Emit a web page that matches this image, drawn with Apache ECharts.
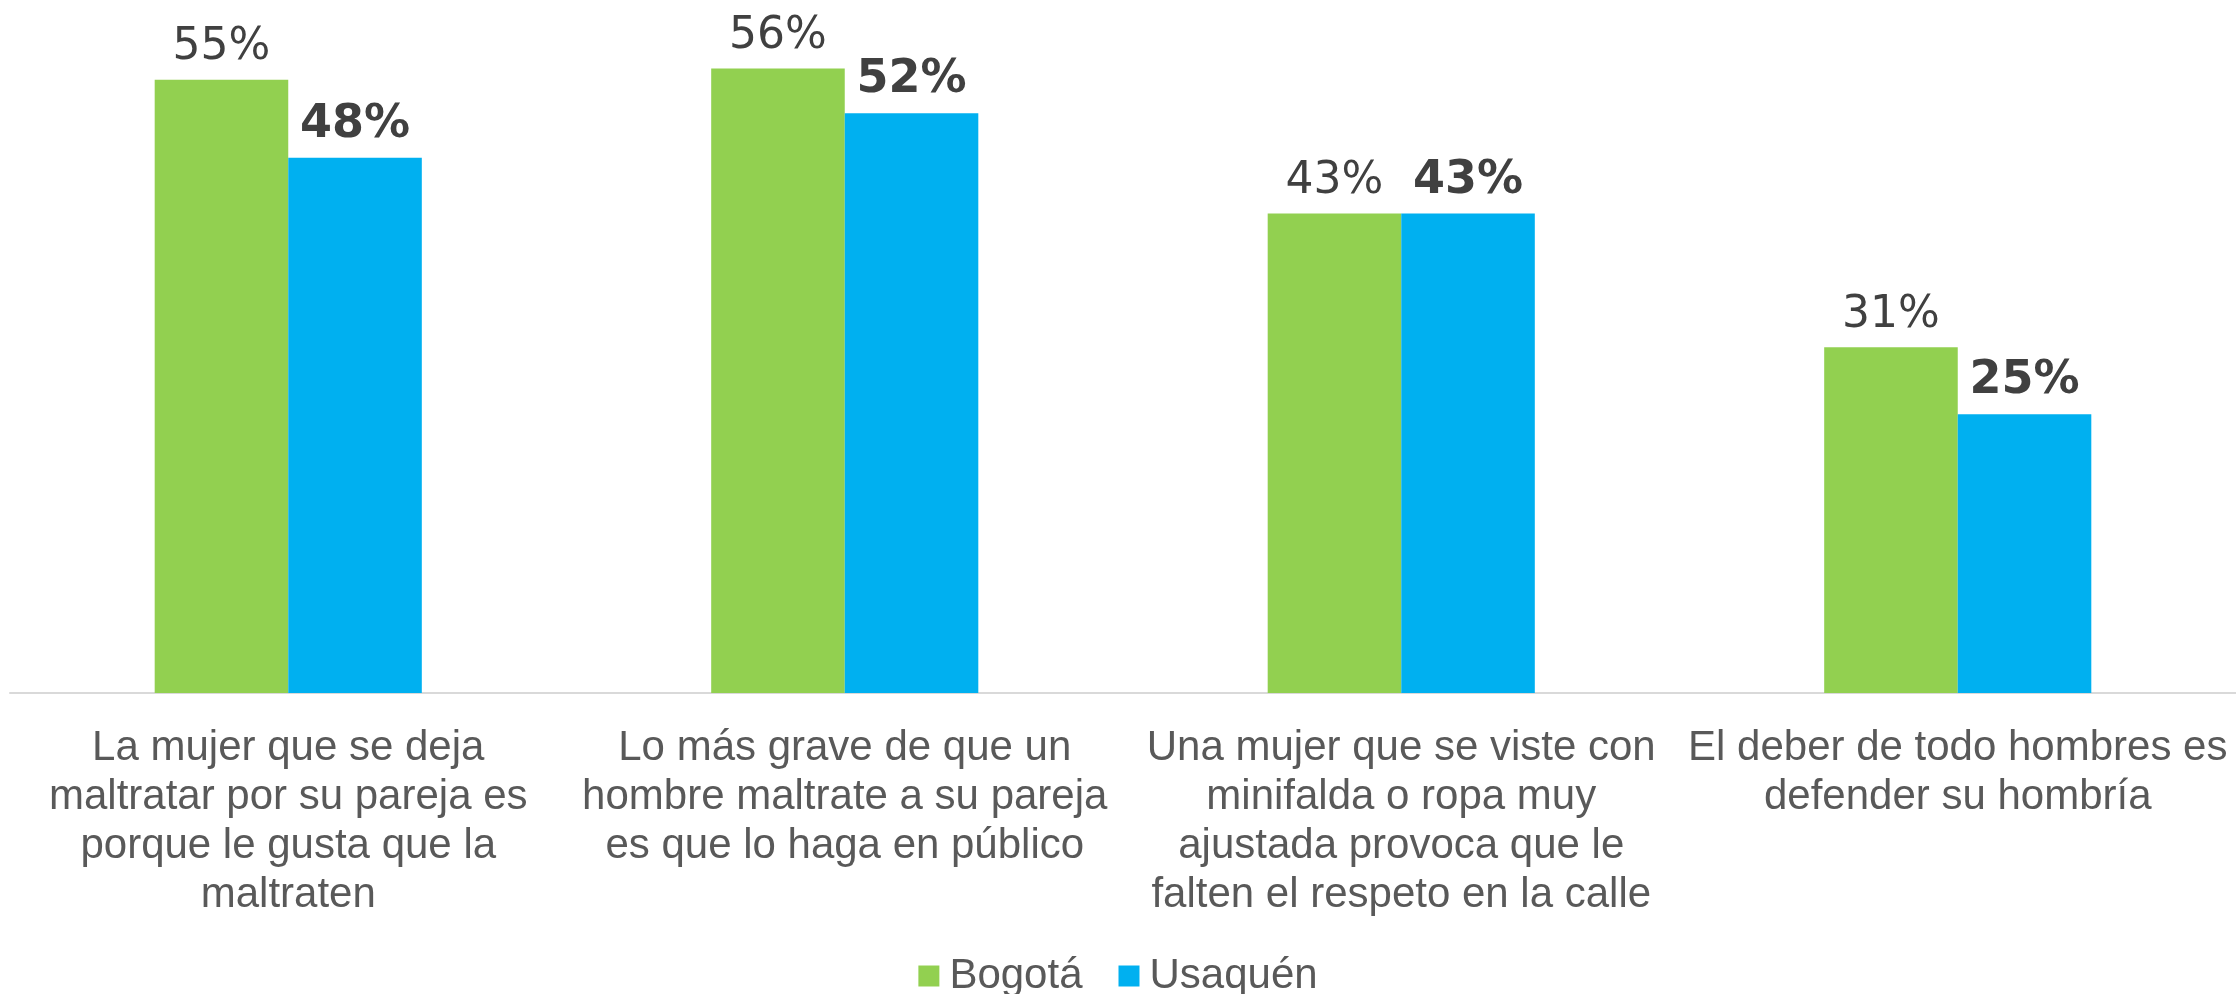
<!DOCTYPE html>
<html>
<head>
<meta charset="utf-8">
<script src="https://cdn.jsdelivr.net/npm/echarts@6/dist/echarts.min.js"></script>
<style>
  html, body { margin: 0; padding: 0; background: #fff; }
  #chart { width: 2236px; height: 994px; }
</style>
</head>
<body>
<div id="chart"></div>
<script>
const categories = [
  'La mujer que se deja\nmaltratar por su pareja es\nporque le gusta que la\nmaltraten',
  'Lo más grave de que un\nhombre maltrate a su pareja\nes que lo haga en público',
  'Una mujer que se viste con\nminifalda o ropa muy\najustada provoca que le\nfalten el respeto en la calle',
  'El deber de todo hombres es\ndefender su hombría'
]
const bogota = [55, 56, 43, 31]
const usaquen = [48, 52, 43, 25]

const chart = echarts.init(document.getElementById('chart'))

chart.setOption({
  backgroundColor: '#ffffff',
  animation: false,
  color: ['#92D050', '#00B0F0'],
  grid: {
    left: 10,
    right: 0,
    top: 24,
    bottom: 301
  },
  legend: {
    top: 950,
    left: 'center',
    itemWidth: 21,
    itemHeight: 21,
    itemGap: 36,
    icon: 'rect',
    textStyle: {
      fontFamily: 'Liberation Sans',
      fontSize: 42,
      color: '#595959',
      padding: [0, 0, 0, 5]
    },
    data: ['Bogotá', 'Usaquén']
  },
  xAxis: {
    type: 'category',
    data: categories,
    axisTick: { show: false },
    axisLine: {
      lineStyle: { color: '#d9d9d9', width: 2 }
    },
    axisLabel: {
      interval: 0,
      margin: 31,
      fontFamily: 'Liberation Sans',
      fontSize: 42,
      lineHeight: 49,
      color: '#595959',
      align: 'center'
    }
  },
  yAxis: {
    type: 'value',
    min: 0,
    max: 60,
    show: false,
    splitLine: { show: false }
  },
  series: [
    {
      name: 'Bogotá',
      type: 'bar',
      data: bogota,
      barWidth: '24%',
      barGap: '0%',
      label: {
        show: true,
        position: 'top',
        distance: 10,
        formatter: '{c}%',
        fontFamily: 'DejaVu Sans',
        fontSize: 44,
        color: '#404040'
      }
    },
    {
      name: 'Usaquén',
      type: 'bar',
      data: usaquen,
      barWidth: '24%',
      label: {
        show: true,
        position: 'top',
        distance: 10,
        formatter: '{c}%',
        fontFamily: 'DejaVu Sans',
        fontSize: 46,
        fontWeight: 'bold',
        color: '#404040'
      }
    }
  ]
})
</script>
</body>
</html>
